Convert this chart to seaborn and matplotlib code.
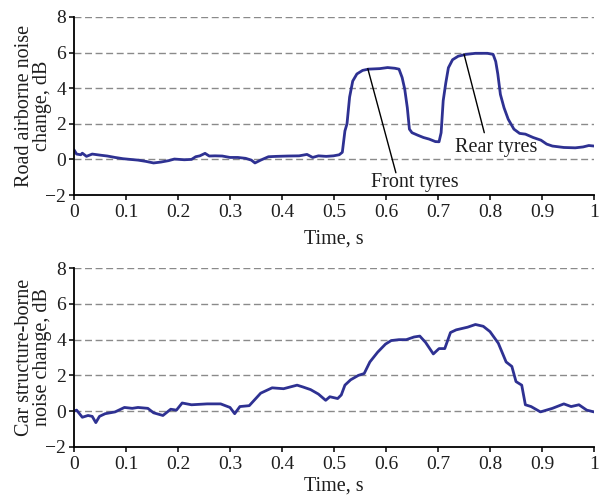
import numpy as np
import pandas as pd
import matplotlib
matplotlib.use("Agg")
import matplotlib.pyplot as plt
import seaborn as sns

# ---------------- data ----------------
t_air = [0.000, 0.005, 0.013, 0.016, 0.024, 0.035, 0.050, 0.064, 0.079, 0.094,
         0.108, 0.123, 0.138, 0.153, 0.167, 0.182, 0.193, 0.212, 0.226, 0.234,
         0.242, 0.252, 0.260, 0.271, 0.285, 0.300, 0.315, 0.330, 0.341, 0.348,
         0.359, 0.374, 0.389, 0.411, 0.433, 0.448, 0.459, 0.470, 0.485, 0.499,
         0.510, 0.516, 0.521, 0.525, 0.530, 0.536, 0.544, 0.555, 0.566, 0.588,
         0.603, 0.617, 0.625, 0.631, 0.636, 0.641, 0.645, 0.650, 0.661, 0.672,
         0.683, 0.695, 0.702, 0.706, 0.710, 0.715, 0.720, 0.728, 0.739, 0.754,
         0.772, 0.795, 0.806, 0.811, 0.815, 0.820, 0.827, 0.835, 0.846, 0.857,
         0.868, 0.883, 0.898, 0.909, 0.920, 0.942, 0.964, 0.979, 0.990, 1.000]
air_db = [0.54, 0.30, 0.26, 0.35, 0.17, 0.30, 0.24, 0.19, 0.11, 0.04,
          0.00, -0.04, -0.11, -0.20, -0.15, -0.07, 0.02, -0.02, 0.00, 0.15,
          0.20, 0.34, 0.19, 0.20, 0.19, 0.11, 0.11, 0.06, -0.04, -0.20,
          -0.04, 0.15, 0.17, 0.19, 0.20, 0.28, 0.11, 0.20, 0.17, 0.20,
          0.26, 0.40, 1.60, 2.00, 3.50, 4.40, 4.80, 5.00, 5.07, 5.10,
          5.16, 5.12, 5.07, 4.60, 3.95, 2.90, 1.70, 1.50, 1.36, 1.23,
          1.14, 1.00, 0.99, 1.50, 3.30, 4.30, 5.15, 5.60, 5.80, 5.90,
          5.96, 5.96, 5.90, 5.50, 4.80, 3.65, 2.90, 2.26, 1.70, 1.46,
          1.42, 1.23, 1.08, 0.86, 0.75, 0.67, 0.65, 0.70, 0.78, 0.75]

t_struct = [0.000, 0.005, 0.016, 0.027, 0.035, 0.042, 0.049, 0.060, 0.079, 0.097,
            0.112, 0.123, 0.142, 0.153, 0.171, 0.186, 0.197, 0.208, 0.226, 0.256,
            0.282, 0.300, 0.309, 0.319, 0.337, 0.348, 0.359, 0.381, 0.403, 0.429,
            0.440, 0.455, 0.470, 0.484, 0.492, 0.507, 0.514, 0.521, 0.532, 0.547,
            0.558, 0.569, 0.584, 0.599, 0.610, 0.625, 0.639, 0.654, 0.665, 0.676,
            0.691, 0.702, 0.713, 0.724, 0.735, 0.757, 0.772, 0.787, 0.800, 0.816,
            0.831, 0.842, 0.850, 0.861, 0.868, 0.879, 0.897, 0.920, 0.942, 0.956,
            0.971, 0.986, 1.000]
struct_db = [0.00, 0.05, -0.35, -0.25, -0.30, -0.65, -0.30, -0.15, -0.05, 0.20,
             0.15, 0.20, 0.15, -0.10, -0.25, 0.10, 0.05, 0.45, 0.35, 0.40,
             0.40, 0.20, -0.15, 0.25, 0.30, 0.65, 1.00, 1.30, 1.25, 1.45,
             1.35, 1.20, 0.95, 0.60, 0.80, 0.70, 0.90, 1.45, 1.75, 2.00,
             2.10, 2.75, 3.30, 3.75, 3.95, 4.00, 4.00, 4.15, 4.20, 3.85,
             3.20, 3.50, 3.50, 4.40, 4.55, 4.70, 4.85, 4.75, 4.45, 3.80,
             2.75, 2.50, 1.65, 1.45, 0.35, 0.25, -0.05, 0.15, 0.40, 0.25,
             0.35, 0.05, -0.05]

x_ticks = [0, 0.1, 0.2, 0.3, 0.4, 0.5, 0.6, 0.7, 0.8, 0.9, 1]
x_tick_labels = ["0", "0.1", "0.2", "0.3", "0.4", "0.5", "0.6", "0.7", "0.8", "0.9", "1"]
y_ticks = [-2, 0, 2, 4, 6, 8]

top_ylabel = "Road airborne noise\nchange, dB"
bottom_ylabel = "Car structure-borne\nnoise change, dB"
xlabel = "Time, s"

# annotation leader lines (data coords) and labels
front_line_x = [0.565, 0.619]
front_line_y = [5.10, -0.75]
front_text_pos = (0.656, -1.57)
rear_line_x = [0.750, 0.789]
rear_line_y = [5.92, 1.50]
rear_text_pos = (0.812, 0.39)

# ---------------- style ----------------
sns.set_style("white")
plt.rcParams['font.family'] = ['Liberation Serif', 'DejaVu Serif']
plt.rcParams['axes.unicode_minus'] = True

LINE_COLOR = "#2e3192"
TEXT_COLOR = "#1e1e1e"

fig = plt.figure(figsize=(6.02, 4.98), dpi=100)
ax1 = fig.add_axes([74 / 602, 1 - 195 / 498, 520 / 602, 178 / 498])
ax2 = fig.add_axes([74 / 602, 1 - 446.7 / 498, 520 / 602, 178.4 / 498])

df_air = pd.DataFrame({"t": t_air, "db": air_db})
df_struct = pd.DataFrame({"t": t_struct, "db": struct_db})

sns.lineplot(data=df_air, x="t", y="db", ax=ax1, color=LINE_COLOR, lw=2.0,
             estimator=None, sort=False)
sns.lineplot(data=df_struct, x="t", y="db", ax=ax2, color=LINE_COLOR, lw=2.0,
             estimator=None, sort=False)

for ax, ylab, xpad in ((ax1, top_ylabel, 6), (ax2, bottom_ylabel, 2.5)):
    ax.set_xlim(0, 1)
    ax.set_ylim(-2, 8)
    ax.set_xticks(x_ticks)
    ax.set_xticklabels(x_tick_labels)
    ax.set_yticks(y_ticks)
    for yv in y_ticks[1:]:
        ax.axhline(yv, color="#8a8a8a", lw=1.0, ls=(0, (5, 2.6)), zorder=0)
    ax.grid(False)
    for s in ("top", "right"):
        ax.spines[s].set_visible(False)
    for s in ("left", "bottom"):
        ax.spines[s].set_color("black")
        ax.spines[s].set_linewidth(1.3)
    ax.tick_params(axis="both", direction="out", length=3.5, width=1.1,
                   color="black", labelsize=14, labelcolor=TEXT_COLOR, pad=3)
    ax.tick_params(axis="y", left=True, pad=2)
    ax.tick_params(axis="x", bottom=True)
    ax.set_xlabel(xlabel, fontsize=14.5, color=TEXT_COLOR, labelpad=xpad)
    ax.set_ylabel(ylab, fontsize=14.5, color=TEXT_COLOR, linespacing=0.9)
    ax.yaxis.set_label_coords(-0.043, 0.5)

# annotations on the top panel
ax1.plot(front_line_x, front_line_y, color="black", lw=1.0)
ax1.plot(rear_line_x, rear_line_y, color="black", lw=1.0)
ax1.text(front_text_pos[0], front_text_pos[1], "Front tyres", fontsize=14.5,
         ha="center", va="baseline", color=TEXT_COLOR)
ax1.text(rear_text_pos[0], rear_text_pos[1], "Rear tyres", fontsize=14.5,
         ha="center", va="baseline", color=TEXT_COLOR)

fig.savefig("out.png", dpi=100)
